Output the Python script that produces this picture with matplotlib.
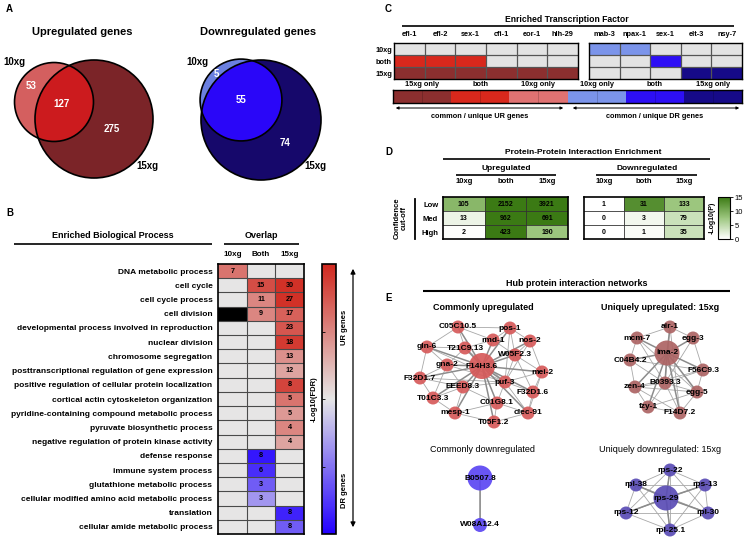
import itertools

import matplotlib
matplotlib.use("Agg")
import matplotlib.pyplot as plt
import matplotlib.cm as cm
import numpy as np
from matplotlib.colors import LinearSegmentedColormap, ListedColormap, Normalize
from matplotlib.patches import Circle, FancyArrowPatch

plt.rcParams['font.family'] = ['Liberation Sans', 'DejaVu Sans']
plt.rcParams['font.weight'] = 'bold'

W, H = 750, 540

# ---------------- data ----------------
# A: venn counts (10xg only, both, 15xg only)
up_venn = [53, 127, 275]
down_venn = [5, 55, 74]

# B: enriched biological processes
bp_terms = [
    "DNA metabolic process",
    "cell cycle",
    "cell cycle process",
    "cell division",
    "developmental process involved in reproduction",
    "nuclear division",
    "chromosome segregation",
    "posttranscriptional regulation of gene expression",
    "positive regulation of cellular protein localization",
    "cortical actin cytoskeleton organization",
    "pyridine-containing compound metabolic process",
    "pyruvate biosynthetic process",
    "negative regulation of protein kinase activity",
    "defense response",
    "immune system process",
    "glutathione metabolic process",
    "cellular modified amino acid metabolic process",
    "translation",
    "cellular amide metabolic process",
]
bp_columns = ["10xg", "Both", "15xg"]
bp_genes = [
    [7, None, None], [None, 15, 30], [None, 11, 27], [None, 9, 17],
    [None, None, 23], [None, None, 18], [None, None, 13], [None, None, 12],
    [None, None, 8], [None, None, 5], [None, None, 5], [None, None, 4],
    [None, None, 4], [None, 8, None], [None, 6, None], [None, 3, None],
    [None, 3, None], [None, None, 8], [None, None, 8],
]
# signed -log10(FDR): positive = UR genes, negative = DR genes, nan = black cell
bp_score = [
    [6, 0, 0], [0, 8, 9.5], [0, 5, 9.5], [np.nan, 5, 7],
    [0, 0, 7.5], [0, 0, 9], [0, 0, 4.5], [0, 0, 3.5],
    [0, 0, 8.5], [0, 0, 6], [0, 0, 4], [0, 0, 5],
    [0, 0, 3.5], [0, -9, 0], [0, -8, 0], [0, -6, 0],
    [0, -3.5, 0], [0, 0, -8.5], [0, 0, -6],
]

# C: enriched transcription factors
tf_rows = ["10xg", "both", "15xg"]
tf_up_names = ["efl-1", "efl-2", "sex-1", "cfi-1", "eor-1", "hlh-29"]
tf_down_names = ["mab-3", "npax-1", "sex-1", "elt-3", "nsy-7"]
# 0 none, 1 UR 15xg only, 2 UR both, 3 UR 10xg only, 4 DR 10xg only, 5 DR both, 6 DR 15xg only
tf_up_class = [[0, 0, 0, 0, 0, 0], [2, 2, 2, 0, 0, 0], [1, 1, 1, 1, 1, 1]]
tf_down_class = [[4, 4, 0, 0, 0], [0, 0, 5, 0, 0], [0, 0, 0, 6, 6]]
tf_legend_class = [1, 2, 3, 4, 5, 6]
tf_legend_labels = ["15xg only", "both", "10xg only", "10xg only", "both", "15xg only"]

# D: protein-protein interaction enrichment
ppi_levels = ["Low", "Med", "High"]
ppi_columns = ["10xg", "both", "15xg"]
ppi_up_counts = [[105, 2152, 3921], [13, 962, 691], [2, 423, 190]]
ppi_up_logp = [[9, 15, 15], [1.5, 15, 15], [0.2, 15, 7.5]]
ppi_down_counts = [[1, 31, 133], [0, 3, 79], [0, 1, 35]]
ppi_down_logp = [[0, 13, 7.5], [0, 1, 4], [0, 0.5, 4]]

# E: hub networks (layouts in panel pixel units)
common_up_pos = {
    "C05C10.5": (458, 327), "pos-1": (510, 328), "rmd-1": (493, 340),
    "nos-2": (530, 341), "gln-6": (427, 347), "T21C9.13": (465, 348),
    "W05F2.3": (515, 355), "gna-2": (447, 365), "F14H3.6": (482, 366),
    "mei-2": (542, 372), "F32D1.7": (420, 378), "EEED8.3": (463, 387),
    "puf-3": (505, 382), "F32D1.6": (533, 392), "T01C3.3": (433, 398),
    "C01G8.1": (497, 403), "mesp-1": (455, 413), "clec-91": (528, 413),
    "T05F1.2": (494, 422),
}
common_up_hub = "F14H3.6"
common_up_edges = [
    ("C05C10.5", "T21C9.13"), ("C05C10.5", "rmd-1"), ("C05C10.5", "gln-6"),
    ("C05C10.5", "pos-1"), ("pos-1", "rmd-1"), ("pos-1", "nos-2"),
    ("pos-1", "W05F2.3"), ("pos-1", "puf-3"), ("rmd-1", "T21C9.13"),
    ("rmd-1", "W05F2.3"), ("nos-2", "W05F2.3"), ("nos-2", "puf-3"),
    ("nos-2", "mei-2"), ("gln-6", "gna-2"), ("gln-6", "T21C9.13"),
    ("gln-6", "F32D1.7"), ("gln-6", "puf-3"), ("T21C9.13", "gna-2"),
    ("T21C9.13", "puf-3"), ("W05F2.3", "puf-3"), ("W05F2.3", "mei-2"),
    ("W05F2.3", "F32D1.6"), ("gna-2", "EEED8.3"), ("gna-2", "F32D1.7"),
    ("gna-2", "T01C3.3"), ("gna-2", "puf-3"), ("mei-2", "puf-3"),
    ("mei-2", "F32D1.6"), ("mei-2", "clec-91"), ("F32D1.7", "EEED8.3"),
    ("F32D1.7", "T01C3.3"), ("F32D1.7", "puf-3"), ("EEED8.3", "puf-3"),
    ("EEED8.3", "T01C3.3"), ("EEED8.3", "mesp-1"), ("EEED8.3", "C01G8.1"),
    ("puf-3", "F32D1.6"), ("puf-3", "C01G8.1"), ("puf-3", "clec-91"),
    ("F32D1.6", "clec-91"), ("T01C3.3", "mesp-1"), ("C01G8.1", "mesp-1"),
    ("C01G8.1", "T05F1.2"), ("C01G8.1", "clec-91"), ("mesp-1", "T05F1.2"),
    ("T05F1.2", "clec-91"),
]

unique_up_pos = {
    "air-1": (670, 327), "mcm-7": (637, 338), "egg-3": (693, 338),
    "ima-2": (667, 353), "C04B4.2": (630, 360), "F56C9.3": (703, 370),
    "B0393.3": (665, 383), "zen-4": (635, 387), "egg-5": (697, 392),
    "fzy-1": (648, 407), "F14D7.2": (680, 413),
}
unique_up_hub = "ima-2"
unique_up_edges = [
    ("air-1", "mcm-7"), ("air-1", "egg-3"), ("air-1", "B0393.3"),
    ("mcm-7", "C04B4.2"), ("mcm-7", "B0393.3"), ("egg-3", "F56C9.3"),
    ("egg-3", "B0393.3"), ("C04B4.2", "zen-4"), ("C04B4.2", "B0393.3"),
    ("C04B4.2", "F56C9.3"), ("F56C9.3", "B0393.3"), ("F56C9.3", "egg-5"),
    ("F56C9.3", "zen-4"), ("B0393.3", "zen-4"), ("B0393.3", "egg-5"),
    ("B0393.3", "fzy-1"), ("B0393.3", "F14D7.2"), ("zen-4", "fzy-1"),
    ("zen-4", "egg-5"), ("zen-4", "F14D7.2"), ("egg-5", "F14D7.2"),
    ("egg-5", "fzy-1"), ("fzy-1", "F14D7.2"), ("mcm-7", "egg-5"),
    ("air-1", "F14D7.2"),
]

common_down_pos = {"B0507.8": (480, 478), "W08A12.4": (480, 525)}
common_down_hub = "B0507.8"
common_down_edges = [("B0507.8", "W08A12.4")]

unique_down_pos = {
    "rps-22": (670, 470), "rpl-38": (636, 485), "rps-13": (705, 485),
    "rps-29": (666, 498), "rps-12": (626, 513), "rpl-30": (708, 513),
    "rpl-25.1": (670, 530),
}
unique_down_hub = "rps-29"
# ribosomal proteins: every pair interacts
unique_down_edges = list(itertools.combinations(unique_down_pos.keys(), 2))


# ---------------- helpers ----------------
fig = plt.figure(figsize=(W / 100, H / 100), dpi=100)

bg = fig.add_axes([0, 0, 1, 1])
bg.set_xlim(0, W)
bg.set_ylim(H, 0)
bg.axis("off")


def px_axes(x0, y0, x1, y1):
    return fig.add_axes([x0 / W, 1 - y1 / H, (x1 - x0) / W, (y1 - y0) / H])


def txt(x, y, s, fs=6, **kw):
    kw.setdefault("ha", "center")
    kw.setdefault("va", "center")
    bg.text(x, y, s, fontsize=fs, **kw)


def hline(x0, x1, y, lw=1.2):
    bg.plot([x0, x1], [y, y], color="black", lw=lw, solid_capstyle="butt")


def heat(ax, values, cmap, norm, edge="#555555", lw=0.8, spine=1.2, vlines=None):
    arr = np.array(values, dtype=float)
    nr, nc = arr.shape
    ax.pcolormesh(np.ma.masked_invalid(arr), cmap=cmap, norm=norm)
    for k in range(1, nr):
        ax.axhline(k, color=edge, lw=lw)
    for k in (range(1, nc) if vlines is None else vlines):
        ax.axvline(k, color=edge, lw=lw)
    ax.set_xlim(0, nc)
    ax.set_ylim(nr, 0)
    for s in ax.spines.values():
        s.set_linewidth(spine)
    ax.tick_params(length=0)
    ax.set_xticks([])
    ax.set_yticks([])


def cell_text(ax, counts, fs=5):
    for i, row in enumerate(counts):
        for j, v in enumerate(row):
            if v is not None:
                ax.text(j + 0.5, i + 0.5, str(v), ha="center", va="center", fontsize=fs)


# ---------------- panel letters ----------------
for letter, x, y in [("A", 6, 9), ("B", 6, 213), ("C", 385, 9), ("D", 385, 152), ("E", 385, 298)]:
    txt(x, y, letter, fs=7, ha="left")

# ---------------- A: venn ----------------
ax_a = px_axes(0, 40, 380, 190)
ax_a.set_xlim(0, 380)
ax_a.set_ylim(190, 40)
ax_a.axis("off")


def venn(ax, counts, cx_s, cy_s, cx_b, cy_b, r_big, cols):
    n_small = counts[0] + counts[1]
    n_big = counts[1] + counts[2]
    r_small = r_big * np.sqrt(n_small / n_big)
    big = Circle((cx_b, cy_b), r_big, fc=cols[1], ec="none")
    ax.add_patch(big)
    ax.add_patch(Circle((cx_s, cy_s), r_small, fc=cols[0], ec="none"))
    inter = Circle((cx_s, cy_s), r_small, fc=cols[2], ec="none")
    ax.add_patch(inter)
    inter.set_clip_path(big)
    ax.add_patch(Circle((cx_b, cy_b), r_big, fc="none", ec="black", lw=1.2))
    ax.add_patch(Circle((cx_s, cy_s), r_small, fc="none", ec="black", lw=1.2))


venn(ax_a, up_venn, 54, 102, 94, 119, 59, ["#d45f5f", "#7b2428", "#cc1b1e"])
venn(ax_a, down_venn, 241, 100, 261, 120, 60, ["#6b80e0", "#16086b", "#2a06f8"])
for (x, y), v in zip([(31, 86), (61, 104), (112, 129)], up_venn):
    ax_a.text(x, y, str(v), color="white", fontsize=7, ha="center", va="center")
for (x, y), v in zip([(216, 74), (241, 100), (285, 143)], down_venn):
    ax_a.text(x, y, str(v), color="white", fontsize=7, ha="center", va="center")
txt(82, 32, "Upregulated genes", fs=8)
txt(258, 32, "Downregulated genes", fs=8)
txt(14, 62, "10xg", fs=7)
txt(147, 166, "15xg", fs=7)
txt(197, 62, "10xg", fs=7)
txt(315, 166, "15xg", fs=7)

# ---------------- B: biological process heatmap ----------------
cmap_b = LinearSegmentedColormap.from_list("fdr", ["#2200ff", "#e6e6e6", "#d0281e"])
cmap_b.set_bad("black")
norm_b = Normalize(-10, 10)
ax_b = px_axes(218, 264, 304, 534)
heat(ax_b, bp_score, cmap_b, norm_b, edge="#4a4a4a", lw=0.8, spine=1.2)
cell_text(ax_b, bp_genes, fs=5.2)
ax_b.set_yticks(np.arange(len(bp_terms)) + 0.5, labels=bp_terms, fontsize=6.0)
ax_b.xaxis.tick_top()
ax_b.set_xticks(np.arange(len(bp_columns)) + 0.5, labels=bp_columns, fontsize=5.8)
ax_b.tick_params(axis="y", pad=4)
ax_b.tick_params(axis="x", pad=4.5)

txt(113, 236, "Enriched Biological Process", fs=6.5)
hline(14, 212, 244)
txt(261, 236, "Overlap", fs=6.5)
hline(224, 299, 244)

cax_b = px_axes(322, 264, 336, 534)
cb = fig.colorbar(cm.ScalarMappable(norm=norm_b, cmap=cmap_b), cax=cax_b)
cb.outline.set_linewidth(1.2)
cb.set_ticks([5, 0, -5])
cax_b.yaxis.set_ticks_position("left")
cax_b.tick_params(length=2, direction="in", labelleft=False, width=0.6)
txt(314, 399, "-Log10(FDR)", fs=5.5, rotation=90)
txt(345, 327, "UR genes", fs=5.5, rotation=90)
txt(345, 490, "DR genes", fs=5.5, rotation=90)
bg.add_patch(FancyArrowPatch((353, 530), (353, 266), arrowstyle="<|-|>",
                             mutation_scale=7, lw=0.9, color="black"))

# ---------------- C: transcription factors ----------------
tf_cmap = ListedColormap(["#e3e3e3", "#8c2f2f", "#d8281c", "#e07272",
                          "#7b94ea", "#2d0ff5", "#160a88"])
tf_norm = Normalize(-0.5, 6.5)

ax_cu = px_axes(394, 43, 578, 79)
heat(ax_cu, tf_up_class, tf_cmap, tf_norm, edge="#555555", lw=0.9, spine=1.0)
ax_cu.xaxis.tick_top()
ax_cu.set_xticks(np.arange(len(tf_up_names)) + 0.5, labels=tf_up_names, fontsize=5.3)
ax_cu.set_yticks(np.arange(len(tf_rows)) + 0.5, labels=tf_rows, fontsize=5.3)
ax_cu.tick_params(axis="x", pad=3.5)
ax_cu.tick_params(axis="y", pad=1.5)

ax_cd = px_axes(589, 43, 742, 79)
heat(ax_cd, tf_down_class, tf_cmap, tf_norm, edge="#555555", lw=0.9, spine=1.0)
ax_cd.xaxis.tick_top()
ax_cd.set_xticks(np.arange(len(tf_down_names)) + 0.5, labels=tf_down_names, fontsize=5.3)
ax_cd.tick_params(axis="x", pad=3.5)

txt(567, 19, "Enriched Transcription Factor", fs=6.2)
hline(402, 734, 26)

ax_cl = px_axes(393, 90, 742, 103)
legend_cells = np.repeat(tf_legend_class, 2)[None, :]
heat(ax_cl, legend_cells, tf_cmap, tf_norm, edge=(0, 0, 0, 0.2), lw=0.6, spine=1.0,
     vlines=range(1, 12, 2))
ax_cl.xaxis.tick_top()
ax_cl.set_xticks(np.arange(len(tf_legend_labels)) * 2 + 1, labels=tf_legend_labels, fontsize=5.3)
ax_cl.tick_params(axis="x", pad=1.2)

bg.add_patch(FancyArrowPatch((393, 108), (566, 108), arrowstyle="<|-|>",
                             mutation_scale=4, lw=0.7, color="black"))
bg.add_patch(FancyArrowPatch((570, 108), (742, 108), arrowstyle="<|-|>",
                             mutation_scale=4, lw=0.7, color="black"))
txt(480, 116, "common / unique UR genes", fs=5.3)
txt(655, 116, "common / unique DR genes", fs=5.3)

# ---------------- D: PPI enrichment ----------------
cmap_d = LinearSegmentedColormap.from_list("ppi", ["#ffffff", "#9cc67e", "#3b7a14"])
norm_d = Normalize(0, 15)

ax_du = px_axes(443, 197, 568, 239)
heat(ax_du, ppi_up_logp, cmap_d, norm_d, edge="#333333", lw=0.6, spine=1.2)
cell_text(ax_du, ppi_up_counts, fs=5)
ax_du.xaxis.tick_top()
ax_du.set_xticks(np.arange(3) + 0.5, labels=ppi_columns, fontsize=5.5)
ax_du.set_yticks(np.arange(3) + 0.5, labels=ppi_levels, fontsize=5.5)
ax_du.tick_params(axis="x", pad=8.5)
ax_du.tick_params(axis="y", pad=3.5)

ax_dd = px_axes(584, 197, 704, 239)
heat(ax_dd, ppi_down_logp, cmap_d, norm_d, edge="#333333", lw=0.6, spine=1.2)
cell_text(ax_dd, ppi_down_counts, fs=5)
ax_dd.xaxis.tick_top()
ax_dd.set_xticks(np.arange(3) + 0.5, labels=ppi_columns, fontsize=5.5)
ax_dd.tick_params(axis="x", pad=8.5)

txt(583, 152, "Protein-Protein Interaction Enrichment", fs=6)
hline(443, 710, 159)
txt(506, 168, "Upregulated", fs=6)
hline(456, 556, 175)
txt(647, 168, "Downregulated", fs=6)
hline(596, 697, 175)
bg.plot([415, 415], [199, 239], color="black", lw=1.3)
txt(401, 218, "Confidence\ncut-off", fs=5.5, rotation=90, linespacing=1.0)

cax_d = px_axes(718, 197, 730, 239)
cbd = fig.colorbar(cm.ScalarMappable(norm=norm_d, cmap=cmap_d), cax=cax_d)
cbd.outline.set_linewidth(0.8)
cbd.set_ticks([0, 5, 10, 15])
cax_d.tick_params(labelsize=5.5, length=2, width=0.6, pad=1.5)
for t in cax_d.get_yticklabels():
    t.set_fontweight("normal")
txt(712, 218, "-Log10(P)", fs=5, rotation=90)

# ---------------- E: hub networks ----------------
ax_e = px_axes(400, 300, 750, 540)
ax_e.set_xlim(400, 750)
ax_e.set_ylim(540, 300)
ax_e.axis("off")


def network(ax, pos, edges, hub, color, r_node=6.5, r_hub=12.5):
    for a, b in edges:
        ax.plot([pos[a][0], pos[b][0]], [pos[a][1], pos[b][1]],
                color="#a8a8a8", lw=0.6, zorder=1)
    for name in pos:
        if name != hub:
            ax.plot([pos[hub][0], pos[name][0]], [pos[hub][1], pos[name][1]],
                    color="#8c8c8c", lw=1.1, zorder=1)
    for name, (x, y) in pos.items():
        r = r_hub if name == hub else r_node
        ax.add_patch(Circle((x, y), r, fc=color, ec="none", alpha=0.92, zorder=2))
        ax.text(x, y, name, fontsize=6, ha="center", va="center", zorder=3)


network(ax_e, common_up_pos, common_up_edges, common_up_hub, "#d65a5a", r_hub=13)
network(ax_e, unique_up_pos, unique_up_edges, unique_up_hub, "#ad6464")
network(ax_e, common_down_pos, common_down_edges, common_down_hub, "#5b46f2", r_node=7)
network(ax_e, unique_down_pos, unique_down_edges, unique_down_hub, "#5a4cb5")

txt(577, 283, "Hub protein interaction networks", fs=6.5)
hline(423, 730, 291, lw=1.5)
txt(483, 308, "Commonly upregulated", fs=6.5)
txt(660, 308, "Uniquely upregulated: 15xg", fs=6.5)
txt(483, 450, "Commonly downregulated", fs=6.5, fontweight="normal")
txt(660, 450, "Uniquely downregulated: 15xg", fs=6.5, fontweight="normal")

fig.savefig("out.png", dpi=100)
